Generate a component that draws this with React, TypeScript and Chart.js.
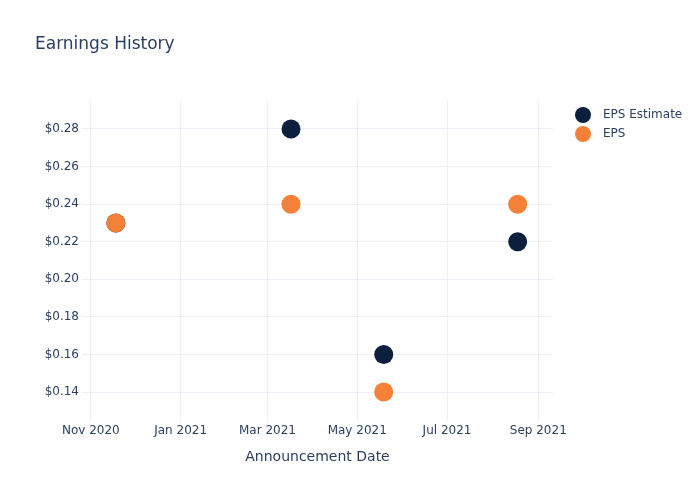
import React, { useEffect, useRef } from "react";
import { Chart, registerables } from "chart.js";

Chart.register(...registerables);

const chartTitle = "Earnings History";
const xAxisTitle = "Announcement Date";
const announcementDates = ["2020-11-18", "2021-03-17", "2021-05-19", "2021-08-18"];
const epsEstimate = [0.23, 0.28, 0.16, 0.22];
const epsActual = [0.23, 0.24, 0.14, 0.24];
const seriesLabels = ["EPS Estimate", "EPS"];
const seriesColors = ["#0c1f3d", "#f58138"];
const xTickDates = ["2020-11-01", "2021-01-01", "2021-03-01", "2021-05-01", "2021-07-01", "2021-09-01"];
const xTickLabels = ["Nov 2020", "Jan 2021", "Mar 2021", "May 2021", "Jul 2021", "Sep 2021"];
const yTicks = [0.14, 0.16, 0.18, 0.2, 0.22, 0.24, 0.26, 0.28];
const xRange = ["2020-10-26", "2021-09-11"];
const yRange = [0.1246, 0.2949];

const ts = (d: string) => new Date(d + "T00:00:00Z").getTime();
const TEXT = "#2a3f5f";
const GRID = "#ebf0f8";
const FONT = "DejaVu Sans";

const overlayPlugin = {
  id: "overlay",
  afterDraw(chart: any) {
    const ctx = chart.ctx;
    ctx.save();
    ctx.fillStyle = TEXT;
    ctx.font = `17px '${FONT}'`;
    ctx.textBaseline = "middle";
    ctx.textAlign = "left";
    ctx.fillText(chartTitle, 35, 45);
    chart.data.datasets.forEach((ds: any, i: number) => {
      const y = 115 + i * 19;
      ctx.beginPath();
      ctx.arc(583, y, 8, 0, Math.PI * 2);
      ctx.fillStyle = ds.backgroundColor;
      ctx.fill();
      ctx.fillStyle = TEXT;
      ctx.font = `12px '${FONT}'`;
      ctx.fillText(ds.label, 603, y);
    });
    ctx.restore();
  },
};

export default function App() {
  const ref = useRef<HTMLCanvasElement>(null);
  useEffect(() => {
    if (!ref.current) return;
    Chart.defaults.font.family = FONT;
    Chart.defaults.color = TEXT;
    const makeData = (vals: number[]) => announcementDates.map((d, i) => ({ x: ts(d), y: vals[i] }));
    const chart = new Chart(ref.current, {
      type: "scatter",
      data: {
        datasets: [
          {
            label: seriesLabels[0],
            data: makeData(epsEstimate),
            backgroundColor: seriesColors[0],
            borderColor: seriesColors[0],
            pointRadius: 9.5,
            borderWidth: 0,
            order: 2,
          },
          {
            label: seriesLabels[1],
            data: makeData(epsActual),
            backgroundColor: seriesColors[1],
            borderColor: seriesColors[1],
            pointRadius: 9.5,
            borderWidth: 0,
            order: 1,
          },
        ],
      },
      options: {
        responsive: false,
        animation: false,
        layout: { padding: { left: 0, top: 101, right: 147, bottom: 0 } },
        plugins: { legend: { display: false }, tooltip: { enabled: false }, title: { display: false } },
        scales: {
          x: {
            type: "linear",
            min: ts(xRange[0]),
            max: ts(xRange[1]),
            grid: { color: GRID, drawTicks: false, lineWidth: 1 },
            border: { display: false },
            ticks: {
              padding: 3,
              font: { size: 12 },
              color: TEXT,
              callback: (v: any) => {
                const idx = xTickDates.findIndex((d) => ts(d) === v);
                return idx >= 0 ? xTickLabels[idx] : "";
              },
            },
            afterBuildTicks: (scale: any) => {
              scale.ticks = xTickDates.map((d) => ({ value: ts(d) }));
            },
            afterFit: (scale: any) => {
              scale.height = 79;
            },
            title: {
              display: true,
              text: xAxisTitle,
              font: { size: 14 },
              color: TEXT,
              padding: { top: 0, bottom: 34 },
            },
          },
          y: {
            min: yRange[0],
            max: yRange[1],
            grid: { color: GRID, drawTicks: false, lineWidth: 1 },
            border: { display: false },
            ticks: {
              padding: 3,
              font: { size: 12 },
              color: TEXT,
              callback: (v: any) => "$" + Number(v).toFixed(2),
            },
            afterBuildTicks: (scale: any) => {
              scale.ticks = yTicks.map((v) => ({ value: v }));
            },
            afterFit: (scale: any) => {
              scale.width = 82;
            },
          },
        },
      },
      plugins: [overlayPlugin],
    } as any);
    return () => chart.destroy();
  }, []);
  return (
    <div style={{ position: "absolute", left: 0, top: 0, width: 700, height: 500, background: "#fff" }}>
      <canvas ref={ref} width={700} height={500} />
    </div>
  );
}
